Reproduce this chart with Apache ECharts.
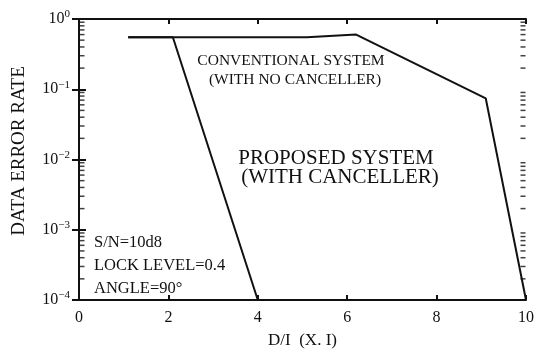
<!DOCTYPE html>
<html>
<head>
<meta charset="utf-8">
<script src="https://cdn.jsdelivr.net/npm/echarts@6/dist/echarts.min.js"></script>
<style>
  html, body { margin: 0; padding: 0; background: #fff; }
  #chart { width: 537px; height: 354px; }
</style>
</head>
<body>
<div id="chart"></div>
<script>
// Data error rate vs. D/I ratio
const xTickValues = [0, 2, 4, 6, 8, 10];
const yDecades = [1e-4, 1e-3, 1e-2, 1e-1, 1];

// [D/I, error rate]
const proposedSystem = [[1.1, 0.55], [2.1, 0.55], [4.0, 1e-4]];
const conventionalSystem = [[1.1, 0.55], [5.1, 0.55], [6.2, 0.6], [9.1, 0.074], [10.0, 1e-4]];

const textA = ['CONVENTIONAL SYSTEM', '(WITH NO CANCELLER)'];
const textB = ['PROPOSED SYSTEM', '(WITH CANCELLER)'];
const conditions = ['S/N=10d8', 'LOCK LEVEL=0.4', 'ANGLE=90°'];

// minor log ticks 2..9 inside each decade, on the left and right frame edges
const minorLeft = [];
const minorRight = [];
for (let d = 0; d < yDecades.length - 1; d++) {
  for (let m = 2; m <= 9; m++) {
    minorLeft.push([xTickValues[0], m * yDecades[d]]);
    minorRight.push([xTickValues[xTickValues.length - 1], m * yDecades[d]]);
  }
}

const FONT = '"Liberation Serif", "DejaVu Serif", serif';
const INK = '#111';

const chart = echarts.init(document.getElementById('chart'));

function yLabel(v) {
  const e = Math.round(Math.log10(v));
  return '{b|10}{s|' + (e === 0 ? '0' : '\u2212' + (-e)) + '}';
}

const axisLineStyle = { color: INK, width: 2 };

function tickSeries(data, offset) {
  return {
    type: 'scatter', data: data, silent: true, clip: false, z: 5,
    symbol: 'rect', symbolSize: [5, 1.5], symbolOffset: [offset, 0],
    itemStyle: { color: INK }
  };
}

chart.setOption({
  animation: false,
  grid: { left: 79, right: 10, top: 19, bottom: 51 },
  xAxis: [{
    type: 'value', min: 0, max: 10, interval: 2,
    axisLine: { lineStyle: axisLineStyle },
    axisTick: { inside: true, length: 5, lineStyle: { color: INK, width: 2 } },
    axisLabel: { color: INK, fontFamily: FONT, fontSize: 16, margin: 10 },
    splitLine: { show: false },
    name: 'D/I  (X. I)', nameLocation: 'middle', nameGap: 32,
    nameTextStyle: { color: INK, fontFamily: FONT, fontSize: 17 }
  }, {
    type: 'value', min: 0, max: 10, interval: 2, position: 'top',
    axisLine: { lineStyle: axisLineStyle },
    axisTick: { inside: true, length: 5, lineStyle: { color: INK, width: 2 } },
    axisLabel: { show: false },
    splitLine: { show: false }
  }],
  yAxis: [{
    type: 'log', logBase: 10, min: yDecades[0], max: yDecades[yDecades.length - 1],
    axisLine: { show: true, lineStyle: axisLineStyle },
    axisTick: { show: true, inside: true, length: 7, lineStyle: { color: INK, width: 2 } },
    axisLabel: {
      color: INK, fontFamily: FONT, margin: 9,
      formatter: yLabel,
      rich: {
        b: { fontFamily: FONT, fontSize: 16, color: INK },
        s: { fontFamily: FONT, fontSize: 11, color: INK, padding: [0, 0, 9, 0] }
      }
    },
    splitLine: { show: false }
  }, {
    type: 'log', logBase: 10, min: yDecades[0], max: yDecades[yDecades.length - 1], position: 'right',
    axisLine: { show: true, lineStyle: axisLineStyle },
    axisTick: { show: true, inside: true, length: 7, lineStyle: { color: INK, width: 2 } },
    axisLabel: { show: false },
    splitLine: { show: false }
  }],
  series: [
    tickSeries(minorLeft, 3),
    tickSeries(minorRight, -3),
    {
      type: 'line', data: conventionalSystem, showSymbol: false,
      lineStyle: { color: INK, width: 2 }, z: 3
    }, {
      type: 'line', data: proposedSystem, showSymbol: false,
      lineStyle: { color: INK, width: 2 }, z: 3
    }
  ],
  graphic: [
    { type: 'text', x: 19, y: 151, rotation: Math.PI / 2,
      style: { text: 'DATA ERROR RATE', fill: INK, font: '19px ' + FONT, textAlign: 'center', textVerticalAlign: 'middle' } },
    { type: 'text', x: 291, y: 61, style: { text: textA[0], fill: INK, font: '15.5px ' + FONT, textAlign: 'center', textVerticalAlign: 'middle' } },
    { type: 'text', x: 295, y: 80, style: { text: textA[1], fill: INK, font: '15.5px ' + FONT, textAlign: 'center', textVerticalAlign: 'middle' } },
    { type: 'text', x: 336, y: 158, style: { text: textB[0], fill: INK, font: '21px ' + FONT, textAlign: 'center', textVerticalAlign: 'middle' } },
    { type: 'text', x: 340, y: 177, style: { text: textB[1], fill: INK, font: '21px ' + FONT, textAlign: 'center', textVerticalAlign: 'middle' } },
    { type: 'text', x: 94, y: 243, style: { text: conditions[0], fill: INK, font: '16.5px ' + FONT, textVerticalAlign: 'middle' } },
    { type: 'text', x: 94, y: 266, style: { text: conditions[1], fill: INK, font: '16.5px ' + FONT, textVerticalAlign: 'middle' } },
    { type: 'text', x: 94, y: 289, style: { text: conditions[2], fill: INK, font: '16.5px ' + FONT, textVerticalAlign: 'middle' } }
  ]
});
</script>
</body>
</html>
